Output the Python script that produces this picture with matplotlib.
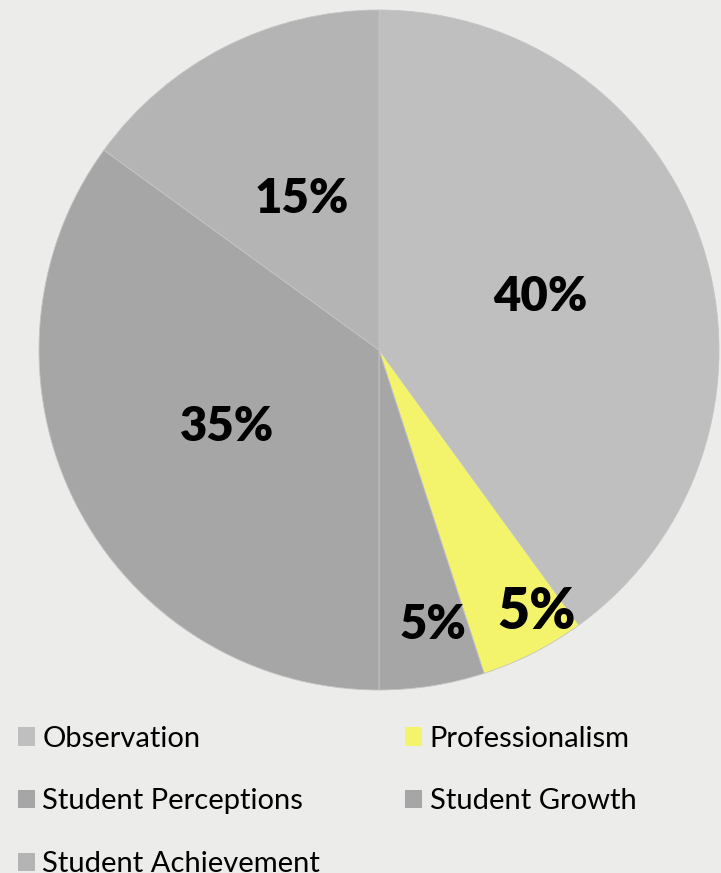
import matplotlib
matplotlib.use("Agg")
import matplotlib.pyplot as plt
from matplotlib.patches import Patch
import numpy as np

categories = ["Observation", "Professionalism", "Student Perceptions", "Student Growth", "Student Achievement"]
values = [40, 5, 5, 35, 15]
colors = ["#bfbfbf", "#f4f46c", "#a6a6a6", "#a6a6a6", "#b4b4b4"]
label_dist = [0.5, 0.9, 0.825, 0.5, 0.5]
label_shift = [0, 4, 2, 0, 0]
label_size = [34, 40, 34, 34, 34]

bg = "#ececea"
plt.rcParams['font.family'] = ['Lato', 'DejaVu Sans']

W, H = 721, 873
fig = plt.figure(figsize=(W / 100, H / 100), dpi=100, facecolor=bg)
cx, cy, r = 379, 350, 340
ax = fig.add_axes([(cx - r) / W, (H - cy - r) / H, 2 * r / W, 2 * r / H])
ax.set_facecolor(bg)

wedges, texts, autotexts = ax.pie(values, colors=colors, startangle=90, counterclock=False,
                                  autopct='%d%%', pctdistance=0.5, radius=1,
                                  wedgeprops=dict(edgecolor='#c4c4c4', linewidth=0.6))
for w, t, d, sh, s in zip(wedges, autotexts, label_dist, label_shift, label_size):
    ang = np.deg2rad((w.theta1 + w.theta2) / 2 + sh)
    t.set_position((d * np.cos(ang), d * np.sin(ang)))
    t.set_fontsize(s)
    t.set_fontweight('heavy')
    t.set_color('black')
ax.set_xlim(-1, 1)
ax.set_ylim(-1, 1)
ax.set_aspect('equal')
ax.axis('off')

handles = [Patch(facecolor=c, edgecolor='none') for c in colors]
order = [0, 2, 4, 1, 3]
fig.legend([handles[i] for i in order], [categories[i] for i in order],
           ncol=2, loc='upper left', bbox_to_anchor=(6 / W, 1 - 714 / H),
           frameon=False, fontsize=21, handlelength=0.6, handleheight=0.6,
           handletextpad=0.25, labelspacing=1.26, columnspacing=2.9, borderaxespad=0)

fig.savefig("out.png", dpi=100, facecolor=bg)
